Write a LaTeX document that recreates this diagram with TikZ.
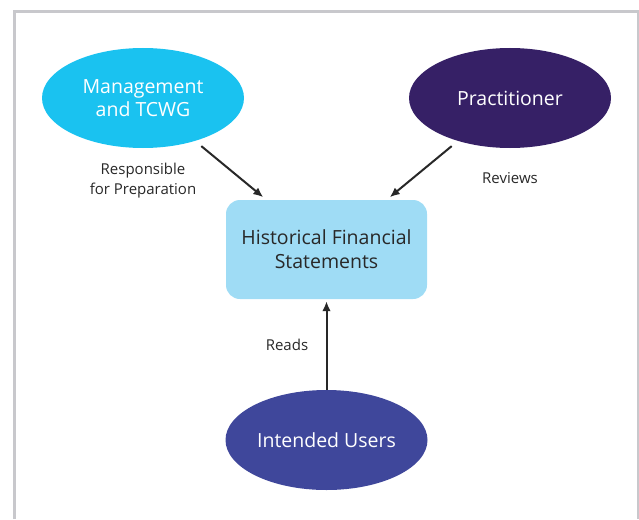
\documentclass[tikz,border=0pt]{standalone}
\usepackage{fontspec}
\setmainfont{Open Sans}
\usetikzlibrary{arrows.meta,shapes.geometric,positioning}

\definecolor{mgmtblue}{RGB}{26,194,240}
\definecolor{practpurple}{RGB}{54,32,102}
\definecolor{usersblue}{RGB}{63,71,155}
\definecolor{boxblue}{RGB}{159,220,245}
\definecolor{framegray}{RGB}{200,200,204}
\definecolor{textgray}{RGB}{40,40,40}

\tikzset{
  party/.style={ellipse, draw=none, minimum width=202pt, minimum height=100pt,
    inner sep=0pt, text=white, align=center, font=\fontsize{19.5}{23}\selectfont},
  statement/.style={rectangle, rounded corners=14pt, fill=boxblue, minimum width=201pt,
    minimum height=99pt, align=center, text=textgray, font=\fontsize{19.5}{24}\selectfont},
  role/.style={align=center, text=textgray, font=\fontsize{15}{20}\selectfont},
  link/.style={-{Latex[length=10pt,width=8.5pt]}, line width=2pt, draw=textgray}
}

\begin{document}
\begin{tikzpicture}[x=1pt,y=-1pt]
\useasboundingbox (0,0) rectangle (639,519);
\draw[framegray, line width=3pt] (14,519) -- (14,12) -- (638,12) -- (638,519);

\node[party, fill=mgmtblue] (mgmt) at (143,98) {Management\\and TCWG};
\node[party, fill=practpurple] (pract) at (510,98) {Practitioner};
\node[statement] (hfs) at (326.5,249.5) {Historical Financial\\Statements};
\node[party, fill=usersblue] (users) at (326.5,440) {Intended Users};

\node[role, below=11pt of mgmt] (resp) {Responsible\\for Preparation};
\node[role, below=21pt of pract] (rev) {Reviews};

\draw[link, shorten <=8pt, shorten >=4pt] (mgmt) -- (hfs);
\draw[link, shorten <=8pt, shorten >=4pt] (pract) -- (hfs);
\draw[link, shorten >=2pt] (users) -- node[midway, left=14pt, role] (reads) {Reads} (hfs);
\end{tikzpicture}
\end{document}
